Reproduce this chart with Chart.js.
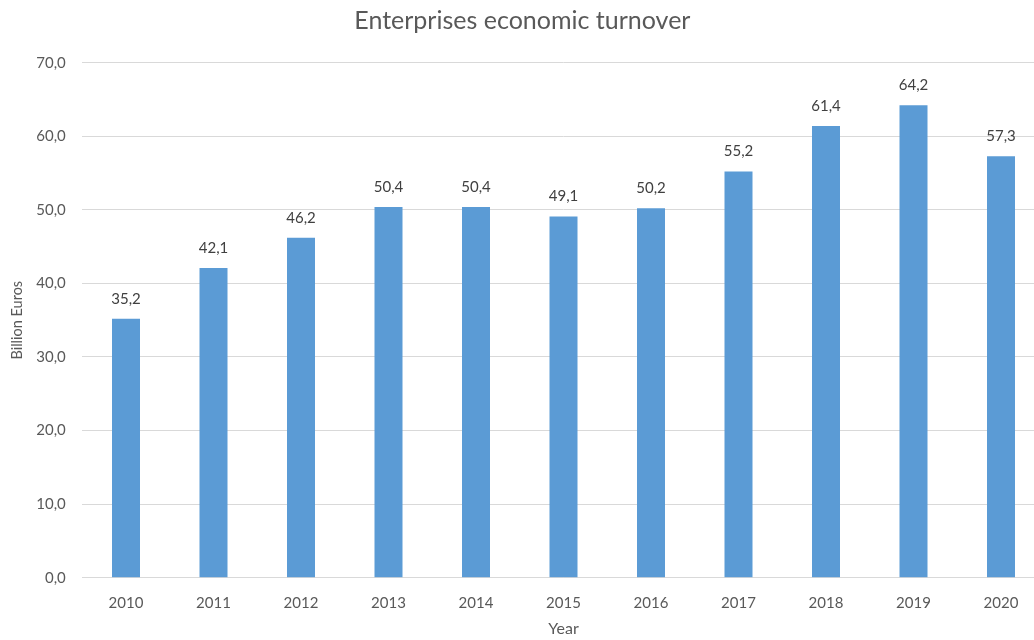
<!DOCTYPE html>
<html>
<head>
<meta charset="utf-8">
<script src="https://cdn.jsdelivr.net/npm/chart.js@4/dist/chart.umd.min.js"></script>
<style>
  html, body { margin: 0; padding: 0; background: #fff; overflow: hidden; }
  #wrap { width: 1034px; height: 640px; overflow: hidden; position: relative; }
  canvas { display: block; }
</style>
</head>
<body>
<div id="wrap"><canvas id="c" width="1045" height="640" style="width:1045px;height:640px"></canvas></div>
<script>
const years = ['2010','2011','2012','2013','2014','2015','2016','2017','2018','2019','2020'];
const turnover = [35.2, 42.1, 46.2, 50.4, 50.4, 49.1, 50.2, 55.2, 61.4, 64.2, 57.3];
const yTicks = [0, 10, 20, 30, 40, 50, 60, 70];

const fmt = v => Number(v).toFixed(1).replace('.', ',');
const FONT = 'Lato, "Open Sans", sans-serif';

const valueLabels = {
  id: 'valueLabels',
  afterDatasetsDraw(chart) {
    const ctx = chart.ctx;
    const meta = chart.getDatasetMeta(0);
    ctx.save();
    ctx.font = '15px ' + FONT;
    ctx.fillStyle = '#404040';
    ctx.textAlign = 'center';
    ctx.textBaseline = 'middle';
    meta.data.forEach((bar, i) => {
      ctx.fillText(fmt(turnover[i]), bar.x, bar.y - 20);
    });
    ctx.restore();
  }
};

new Chart(document.getElementById('c'), {
  type: 'bar',
  data: {
    labels: years,
    datasets: [{
      data: turnover,
      backgroundColor: '#5b9bd5',
      borderWidth: 0,
      barPercentage: 0.32,
      categoryPercentage: 1.0
    }]
  },
  options: {
    responsive: false,
    animation: false,
    devicePixelRatio: 1,
    layout: { padding: { left: 0, right: 0.25, top: 0, bottom: 0 } },
    plugins: {
      legend: { display: false },
      tooltip: { enabled: false },
      title: {
        display: true,
        text: 'Enterprises economic turnover',
        color: '#595959',
        font: { family: FONT, size: 25, weight: 'normal', lineHeight: 1.2 },
        padding: { top: 6, bottom: 26.7 }
      }
    },
    scales: {
      x: {
        grid: { display: false, drawTicks: false },
        border: { display: true, color: '#d9d9d9', width: 1 },
        ticks: { color: '#595959', font: { family: FONT, size: 15 }, padding: 16, maxRotation: 0 },
        title: {
          display: true, text: 'Year', color: '#595959',
          font: { family: FONT, size: 16, weight: 'normal', lineHeight: 1.2 },
          padding: { top: 0, bottom: 1.4 }
        },
        afterFit(scale) { scale.height = 62.3; }
      },
      y: {
        min: 0, max: 70,
        afterBuildTicks(scale) { scale.ticks = yTicks.map(v => ({ value: v })); },
        grid: { color: '#d9d9d9', lineWidth: 1, drawTicks: false },
        border: { display: false },
        ticks: {
          color: '#595959', font: { family: FONT, size: 15 }, padding: 16.5,
          callback: v => fmt(v)
        },
        title: {
          display: true, text: 'Billion Euros', color: '#595959',
          font: { family: FONT, size: 14.5, weight: 'normal', lineHeight: 1.2 },
          padding: { top: 9, bottom: 0 }
        },
        afterFit(scale) { scale.width = 82.25; }
      }
    }
  },
  plugins: [valueLabels]
});
</script>
</body>
</html>
